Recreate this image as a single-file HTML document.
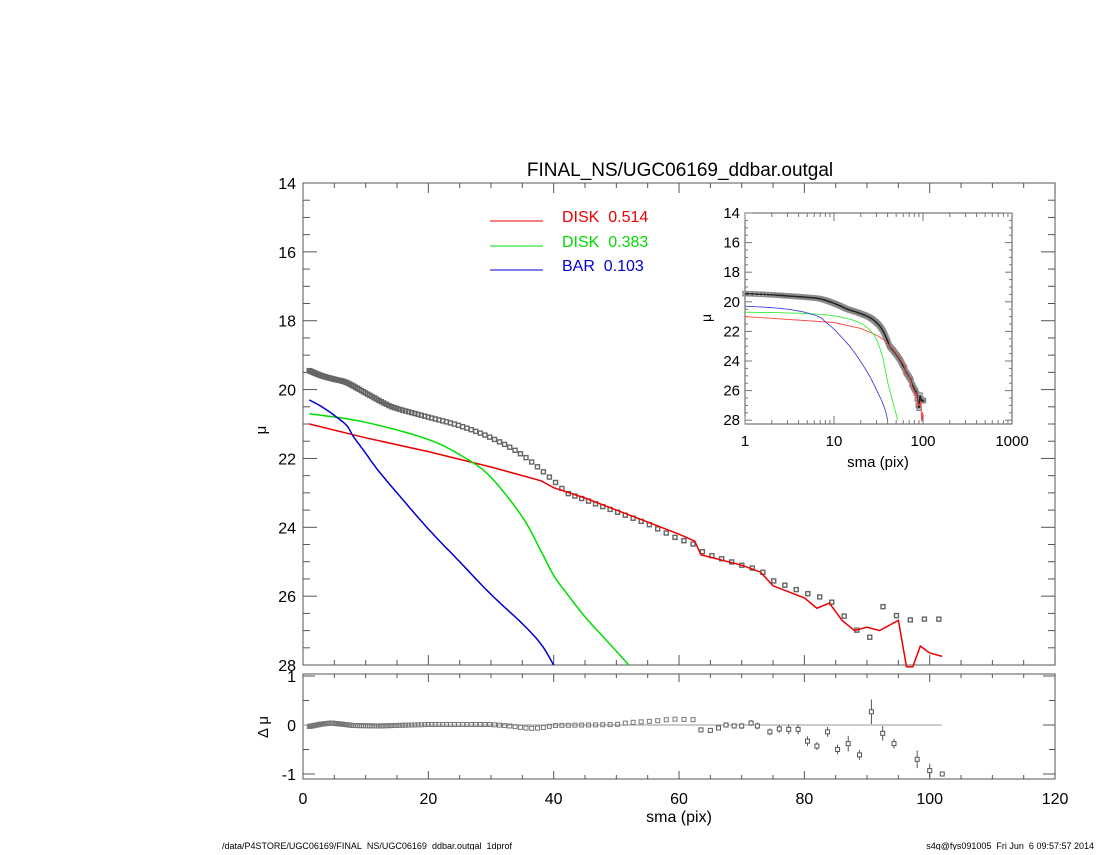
<!DOCTYPE html>
<html><head><meta charset="utf-8"><style>
body{margin:0;background:#fff;}
svg text{font-family:"Liberation Sans",sans-serif;white-space:pre;}
</style></head><body>
<svg id="s" width="1100" height="850" xmlns="http://www.w3.org/2000/svg"></svg>
<script>
const S=document.getElementById('s');let h='';
function X(s){return 303+s*6.267}
function Y(m){return 183+(m-14)*34.43}
function RY(d){return 725-d*49}
function IX(s){return 745+Math.log10(s)*89}
function IY(m){return 213+(m-14)*14.8}
function interp(pts,s){for(let i=0;i<pts.length-1;i++){if(s>=pts[i][0]&&s<=pts[i+1][0]){const t=(s-pts[i][0])/(pts[i+1][0]-pts[i][0]);return pts[i][1]+t*(pts[i+1][1]-pts[i][1]);}}return pts[pts.length-1][1];}
function smooth(pts){const out=[];for(let i=0;i<pts.length-1;i++){const p0=pts[Math.max(0,i-1)],p1=pts[i],p2=pts[i+1],p3=pts[Math.min(pts.length-1,i+2)];for(let k=0;k<10;k++){const t=k/10,t2=t*t,t3=t2*t;const f=(a,b,c,d)=>0.5*(2*b+(-a+c)*t+(2*a-5*b+4*c-d)*t2+(-a+3*b-3*c+d)*t3);out.push([f(p0[0],p1[0],p2[0],p3[0]),f(p0[1],p1[1],p2[1],p3[1])]);}}out.push(pts[pts.length-1]);return out;}
const prof=[[1,19.45],[3,19.6],[5,19.7],[7,19.8],[10,20.1],[13,20.4],[15,20.55],[20,20.8],[25,21.05],[30,21.4],[35,21.9],[40,22.65],[42,23.0],[45,23.2],[50,23.55],[55,23.9],[60,24.35],[62,24.45],[64,24.75],[70,25.1],[73,25.25],[75,25.55],[80,25.9],[84,26.1],[86,26.5],[88,26.95],[90.5,27.2],[92.5,26.3],[94.5,26.55],[96.5,26.7],[98.5,26.65],[100.5,26.7],[102,26.65]];
const red=[[1,21.0],[10,21.4],[20,21.8],[30,22.25],[38,22.65],[40,22.85],[45,23.15],[50,23.5],[55,23.85],[60,24.2],[62.5,24.4],[63.5,24.8],[70,25.1],[73,25.3],[75,25.7],[80,26.05],[82,26.35],[84,26.2],[86,26.7],[88,27.0],[90,26.9],[92,27.0],[95,26.7],[96.3,28.05],[97.3,28.05],[98.5,27.45],[100,27.65],[102,27.75]];
const green=smooth([[1,20.7],[10,20.95],[20,21.45],[26,22.0],[30,22.55],[35,23.7],[38,24.7],[40,25.4],[42,25.9],[45,26.6],[48,27.2],[50,27.6],[52,28.0]]);
const blue=smooth([[1,20.3],[3,20.5],[5,20.75],[7,21.05],[8,21.35],[10,21.85],[12,22.35],[15,23.0],[20,24.05],[25,25.0],[30,25.95],[35,26.8],[38,27.4],[40,28.0]]);
function line(pts,col,fx,fy,w){return '<polyline fill="none" stroke="'+col+'" stroke-width="'+w+'" points="'+pts.map(p=>fx(p[0]).toFixed(1)+','+fy(Math.min(p[1],28.3)).toFixed(1)).join(' ')+'"/>';}
let ss=[];for(let s=1;s<=102.5;s=s*1.022+0.12)ss.push(s);
const sp=smooth(prof.slice(0,13)).concat(prof.slice(13));
h+='<rect x="303" y="183" width="752" height="482" fill="none" stroke="#555" stroke-width="1"/>';
for(let v=0;v<=120;v+=5){const x=X(v),L=v%20==0?10:5;h+=`<line x1="${x}" y1="183" x2="${x}" y2="${183+L}" stroke="#555"/><line x1="${x}" y1="665" x2="${x}" y2="${665-L}" stroke="#555"/>`;}
for(let m=14;m<=28;m+=0.5){const y=Y(m),L=m%2==0?14:7;h+=`<line x1="303" y1="${y}" x2="${303+L}" y2="${y}" stroke="#555"/><line x1="1055" y1="${y}" x2="${1055-L}" y2="${y}" stroke="#555"/>`;if(m%2==0)h+=`<text x="296" y="${y+6}" font-size="16" text-anchor="end">${m}</text>`;}
h+='<text x="680" y="176" font-size="19" text-anchor="middle">FINAL_NS/UGC06169_ddbar.outgal</text>';
h+='<text x="266" y="430" font-size="15" text-anchor="middle" transform="rotate(-90 266 430)">μ</text>';
for(const s of ss){const m=interp(sp,s);h+=`<rect x="${X(s)-2}" y="${Y(m)-2}" width="4" height="4" fill="none" stroke="#666" stroke-width="1.4"/>`;}
h+=line(red,'#e00',X,Y,1.5)+line(green,'#0d0',X,Y,1.5)+line(blue,'#00c',X,Y,1.5);
h+='<line x1="490" y1="221" x2="543" y2="221" stroke="#e00"/><text x="562" y="222" font-size="16" fill="#e00">DISK  0.514</text>';
h+='<line x1="490" y1="246" x2="543" y2="246" stroke="#0d0"/><text x="562" y="247" font-size="16" fill="#0d0">DISK  0.383</text>';
h+='<line x1="490" y1="270" x2="543" y2="270" stroke="#00c"/><text x="562" y="271" font-size="16" fill="#00c">BAR  0.103</text>';
h+='<rect x="745" y="213" width="267" height="211" fill="#fff" stroke="#555"/>';
for(let d=0;d<3;d++)for(let k=1;k<10;k++){const x=IX(Math.pow(10,d)*k),L=k==1?8:4;h+=`<line x1="${x}" y1="424" x2="${x}" y2="${424-L}" stroke="#777"/><line x1="${x}" y1="213" x2="${x}" y2="${213+L}" stroke="#777"/>`;}
[1,10,100,1000].forEach(v=>h+=`<text x="${IX(v)}" y="446" font-size="15" text-anchor="middle">${v}</text>`);
for(let m=14;m<=28;m+=0.5){const y=IY(m),L=m%2==0?7:3;h+=`<line x1="745" y1="${y}" x2="${745+L}" y2="${y}" stroke="#777"/><line x1="1012" y1="${y}" x2="${1012-L}" y2="${y}" stroke="#777"/>`;if(m%2==0)h+=`<text x="740" y="${y+5}" font-size="15" text-anchor="end">${m}</text>`;}
h+='<text x="878" y="467" font-size="15" text-anchor="middle">sma (pix)</text>';
h+='<text x="711" y="318" font-size="14" text-anchor="middle" transform="rotate(-90 711 318)">μ</text>';
for(const s of ss){const m=interp(sp,s);h+=`<rect x="${IX(s)-2}" y="${IY(m)-2}" width="4" height="4" fill="none" stroke="#888" stroke-width="1.5"/>`;}
h+=line(sp,'#222',IX,IY,1.5);
h+=line(red,'#f44',IX,IY,0.9)+line(green,'#3e3',IX,IY,0.9)+line(blue,'#44d',IX,IY,0.9);
h+='<rect x="303" y="674" width="752" height="105" fill="none" stroke="#555"/>';
for(let v=0;v<=120;v+=5){const x=X(v),L=v%20==0?8:4;h+=`<line x1="${x}" y1="674" x2="${x}" y2="${674+L}" stroke="#555"/><line x1="${x}" y1="779" x2="${x}" y2="${779-L}" stroke="#555"/>`;if(v%20==0)h+=`<text x="${x}" y="804" font-size="16" text-anchor="middle">${v}</text>`;}
for(let d=-1;d<=1;d+=0.5){const y=RY(d),L=d%1==0?12:6;h+=`<line x1="303" y1="${y}" x2="${303+L}" y2="${y}" stroke="#555"/><line x1="1055" y1="${y}" x2="${1055-L}" y2="${y}" stroke="#555"/>`;if(d%1==0)h+=`<text x="296" y="${y+6}" font-size="16" text-anchor="end">${d}</text>`;}
h+='<line x1="303" y1="725" x2="942" y2="725" stroke="#999"/>';
h+='<text x="268" y="727" font-size="15" text-anchor="middle" transform="rotate(-90 268 727)">Δ μ</text>';
h+='<text x="679" y="822" font-size="16" text-anchor="middle">sma (pix)</text>';
const res=[[1,-0.03],[3,0.02],[4.5,0.04],[6,0.02],[8,-0.01],[12,-0.02],[20,0.01],[30,0.01],[33,-0.02],[36,-0.07],[38,-0.06],[40,-0.01],[45,0.0],[50,0.01],[52,0.05],[56,0.08],[59,0.12],[62,0.11]];
for(const s of ss){if(s>62.5)break;const d=interp(res,s);h+=`<rect x="${X(s)-2}" y="${RY(d)-2}" width="4" height="4" fill="none" stroke="#777" stroke-width="1"/>`;}
const late=[[63.5,-0.1,0.03],[65,-0.11,0.03],[66.3,-0.06,0.04],[67.5,0,0.04],[68.8,-0.02,0.05],[70,-0.02,0.06],[71.5,0.04,0.06],[72.5,-0.02,0.07],[74.5,-0.14,0.07],[76,-0.08,0.08],[77.5,-0.09,0.1],[79,-0.09,0.1],[80.5,-0.33,0.1],[82,-0.43,0.08],[83.7,-0.14,0.1],[85.3,-0.5,0.1],[87,-0.38,0.16],[88.8,-0.61,0.1],[90.7,0.27,0.25],[92.5,-0.17,0.15],[94.3,-0.38,0.1],[98,-0.7,0.18],[100,-0.93,0.14],[102,-1.0,0.05]];
for(const p of late){const x=X(p[0]);h+=`<line x1="${x}" y1="${RY(p[1]+p[2])}" x2="${x}" y2="${RY(p[1]-p[2])}" stroke="#555"/><rect x="${x-2}" y="${RY(p[1])-2}" width="4" height="4" fill="#fff" stroke="#555"/>`;}
h+='<text x="222" y="849" font-size="9">/data/P4STORE/UGC06169/FINAL_NS/UGC06169_ddbar.outgal_1dprof</text>';
h+='<text x="1094" y="849" font-size="9" text-anchor="end">s4g@fys091005  Fri Jun  6 09:57:57 2014</text>';
S.innerHTML=h;
</script>
</body></html>
